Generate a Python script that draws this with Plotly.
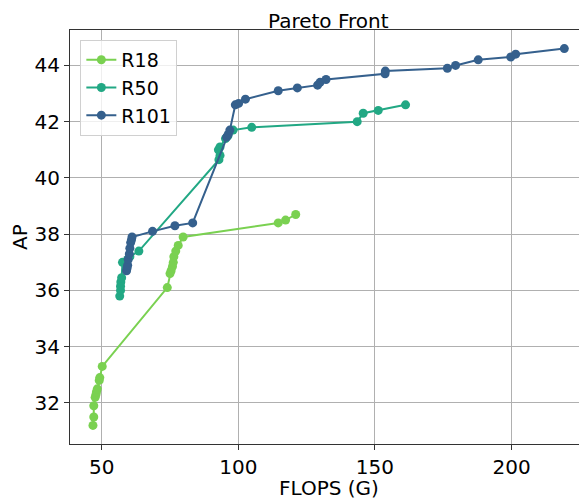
import plotly.graph_objects as go

# ---- data ----
r18_flops = [46.8, 47.1, 47.1, 47.6, 47.9, 48.1, 48.4, 49.1, 49.3, 50.2,
             74.0, 75.0, 75.4, 75.9, 76.2, 76.4, 77.1, 78.0, 79.8,
             114.6, 117.3, 121.0]
r18_ap = [31.2, 31.5, 31.9, 32.2, 32.3, 32.4, 32.5, 32.8, 32.9, 33.3,
          36.1, 36.6, 36.7, 36.85, 37.0, 37.2, 37.4, 37.6, 37.9,
          38.4, 38.5, 38.7]

r50_flops = [56.6, 56.9, 56.9, 57.0, 57.3, 57.6, 59.5, 60.3, 63.6,
             92.9, 93.3, 92.7, 93.3, 95.3, 96.2, 98.1, 104.9,
             143.5, 145.7, 151.2, 161.2]
r50_ap = [35.8, 36.0, 36.15, 36.3, 36.45, 37.0, 37.1, 37.2, 37.4,
          40.65, 40.8, 41.0, 41.1, 41.4, 41.5, 41.7, 41.8,
          42.0, 42.3, 42.4, 42.6]

r101_flops = [59.1, 59.3, 59.5, 59.7, 60.1, 60.3, 60.6, 60.9, 61.1,
              68.6, 76.8, 83.3, 95.7, 96.3, 96.9, 98.9, 100.1, 102.6,
              114.6, 121.6, 129.0, 129.9, 132.1, 153.7, 153.8,
              176.5, 179.5, 187.8, 199.7, 201.5, 219.3]
r101_ap = [36.7, 36.8, 36.9, 37.1, 37.3, 37.5, 37.7, 37.8, 37.9,
           38.1, 38.3, 38.4, 41.45, 41.55, 41.7, 42.6, 42.65, 42.8,
           43.1, 43.2, 43.3, 43.4, 43.5, 43.7, 43.8,
           43.9, 44.0, 44.2, 44.3, 44.4, 44.6]

x_ticks = [50, 100, 150, 200]
y_ticks = [32, 34, 36, 38, 40, 42, 44]

series = [
    ("R18", r18_flops, r18_ap, "#7ad151"),
    ("R50", r50_flops, r50_ap, "#22a884"),
    ("R101", r101_flops, r101_ap, "#35608d"),
]

fig = go.Figure()
for name, xs, ys, col in series:
    fig.add_trace(go.Scatter(
        x=xs, y=ys, name=name, mode="lines+markers",
        line=dict(color=col, width=2),
        marker=dict(color=col, size=9),
    ))

font_family = "DejaVu Sans, sans-serif"
fig.update_layout(
    width=579, height=491,
    margin=dict(l=62, r=0, t=22, b=55, autoexpand=False),
    paper_bgcolor="white", plot_bgcolor="white",
    font=dict(family=font_family, size=20, color="black"),
    showlegend=True,
    legend=dict(x=0.02, y=0.976, xanchor="left", yanchor="top",
                bgcolor="rgba(255,255,255,0.8)", bordercolor="#d0d0d0",
                borderwidth=1, font=dict(size=19), tracegroupgap=0),
    annotations=[
        dict(text="Pareto Front", xref="paper", yref="paper", x=0.5, y=1.0,
             yshift=9, xanchor="center", yanchor="middle", showarrow=False,
             borderpad=0, font=dict(size=20)),
        dict(text="FLOPS (G)", xref="paper", yref="paper", x=0.5, y=0.0,
             yshift=-44, xanchor="center", yanchor="middle", showarrow=False,
             font=dict(size=20)),
        dict(text="AP", xref="paper", yref="paper", x=0.0, y=0.5,
             xshift=-50, xanchor="center", yanchor="middle", showarrow=False,
             textangle=-90, font=dict(size=20)),
    ],
)
fig.update_xaxes(
    range=[38.4, 227.6], tickvals=x_ticks, ticks="outside", ticklen=5,
    tickcolor="#333", showgrid=True, gridcolor="#b0b0b0", gridwidth=1,
    showline=True, linecolor="#333", linewidth=1.2, mirror=True,
    zeroline=False, automargin=False, tickfont=dict(size=20),
)
fig.update_yaxes(
    range=[30.54, 45.26], tickvals=y_ticks, ticks="outside", ticklen=5,
    tickcolor="#333", showgrid=True, gridcolor="#b0b0b0", gridwidth=1,
    showline=True, linecolor="#333", linewidth=1.2, mirror=True,
    zeroline=False, automargin=False, tickfont=dict(size=20),
)

fig.write_html("out.html")
